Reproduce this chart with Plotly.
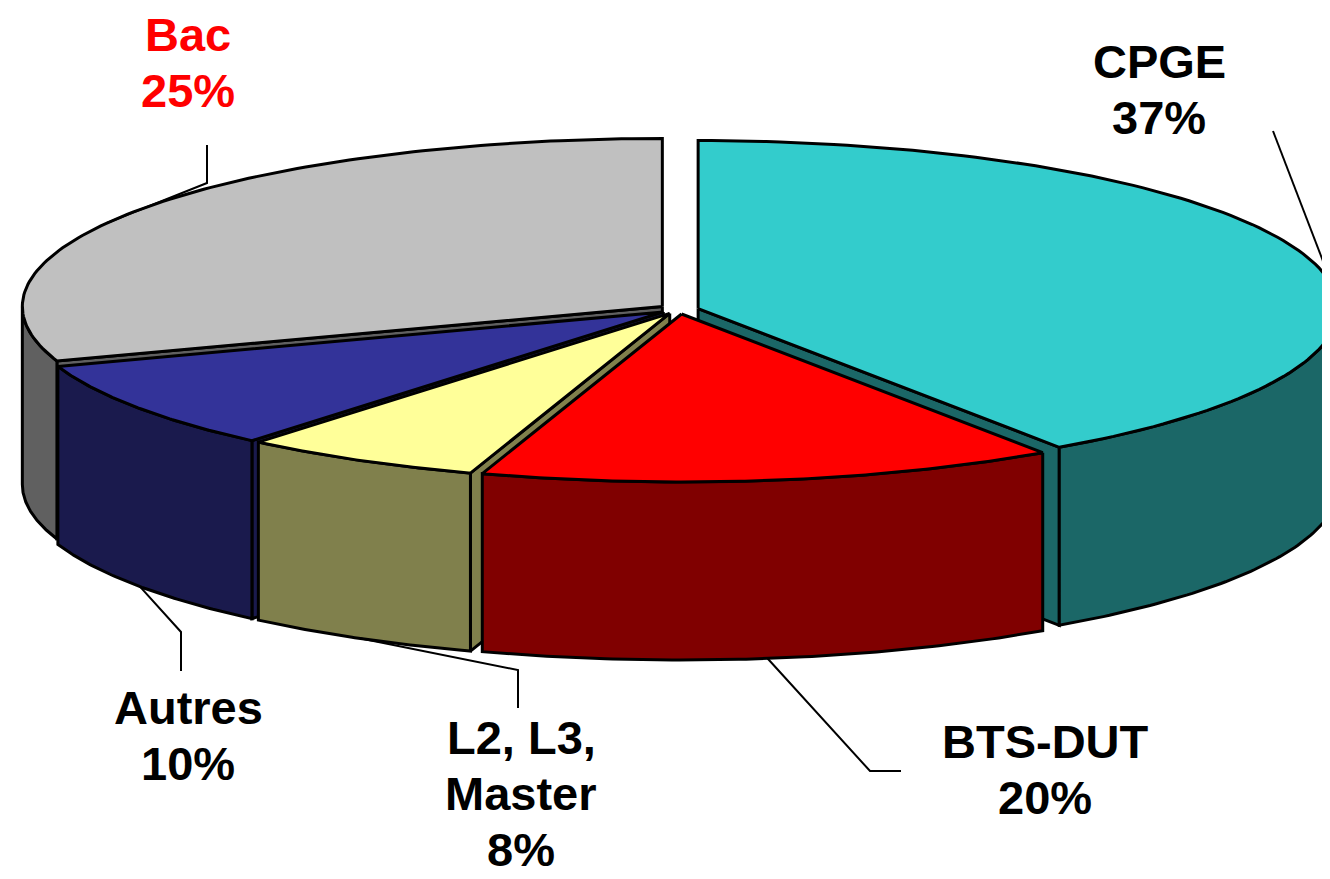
import numpy as np
import plotly.graph_objects as go

# ---------------- data ----------------
categories = ["CPGE", "BTS-DUT", "L2, L3, Master", "Autres", "Bac"]
label_lines = [["CPGE"], ["BTS-DUT"], ["L2, L3,", "Master"], ["Autres"], ["Bac"]]
values = [37, 20, 8, 10, 25]

# ---------------- style ----------------
top_colors = ["#33CCCC", "#FF0000", "#FFFF99", "#333399", "#C0C0C0"]
side_colors = ["#1B6767", "#800000", "#80804C", "#1A1A4D", "#606060"]
label_colors = ["black", "black", "black", "black", "#FF0000"]
# label x-centre and y of the first line's centre (layout, in pixels)
label_pos = [(1151, 61), (1037, 741), (513, 737), (180, 707), (180, 34)]
LINE_STEP = 56
TEXT_DY = -8               # anchor offset between box middle and cap middle
leader_elbows = [
    [(1265, 123)],
    [(862, 763), (893, 763)],
    [(510, 662), (510, 700)],
    [(173, 624), (173, 663)],
    [(199, 175), (199, 137)],
]

W, H = 1330, 879
CX, CY = 671, 301          # pie centre (px)
RX, RY = 640, 168          # ellipse radii of the tilted disc
DEPTH = 178                # thickness of the pie
PULL = 0.03                # explosion (fraction of radius)
PERSP = 1.4                # perspective warp of the angles
LINE_W = 3
FONT = "Liberation Sans, Arial, sans-serif"
FONT_SIZE = 47


def warp(theta_deg):
    t = np.radians(theta_deg) / 2.0
    return 2.0 * np.arctan2(PERSP * np.sin(t), np.cos(t))


total = float(sum(values))
cum = np.concatenate([[0.0], np.cumsum(values)]) / total * 360.0

slices = []
for i, v in enumerate(values):
    th0, th1 = cum[i], cum[i + 1]
    p0, p1 = warp(th0), warp(th1)
    pm = warp((th0 + th1) / 2.0)
    ox = PULL * RX * np.sin(pm)
    oy = -PULL * RY * np.cos(pm)
    slices.append(dict(i=i, p0=p0, p1=p1, pm=pm, vx=CX + ox, vy=CY + oy))


def rim(s, p):
    p = np.asarray(p)
    return s["vx"] + RX * np.sin(p), s["vy"] - RY * np.cos(p)


fig = go.Figure()


def add_poly(xs, ys, fill):
    fig.add_trace(go.Scatter(
        x=list(xs), y=list(ys), mode="lines", fill="toself",
        fillcolor=fill, line=dict(color="black", width=LINE_W),
        hoverinfo="skip", showlegend=False))


# painter's order: back slices first
order = sorted(slices, key=lambda s: -np.cos(s["pm"]))
for s in order:
    i = s["i"]
    side = side_colors[i]
    # radial walls
    for p, visible in ((s["p0"], np.sin(s["p0"]) < -1e-6),
                       (s["p1"], np.sin(s["p1"]) > 1e-6)):
        if visible:
            rx_, ry_ = rim(s, p)
            xs = [s["vx"], rx_, rx_, s["vx"], s["vx"]]
            ys = [s["vy"], ry_, ry_ + DEPTH, s["vy"] + DEPTH, s["vy"]]
            add_poly(xs, ys, side)
    # outer curved wall (front half only)
    a = max(s["p0"], np.pi / 2)
    b = min(s["p1"], 3 * np.pi / 2)
    if b > a:
        ps = np.linspace(a, b, 80)
        tx, ty = rim(s, ps)
        xs = np.concatenate([tx, tx[::-1], tx[:1]])
        ys = np.concatenate([ty, ty[::-1] + DEPTH, ty[:1]])
        add_poly(xs, ys, side)
    # top face
    ps = np.linspace(s["p0"], s["p1"], 120)
    tx, ty = rim(s, ps)
    xs = np.concatenate([[s["vx"]], tx, [s["vx"]]])
    ys = np.concatenate([[s["vy"]], ty, [s["vy"]]])
    add_poly(xs, ys, top_colors[i])

# leader lines and labels
for s in slices:
    i = s["i"]
    ax, ay = rim(s, s["pm"])
    if np.cos(s["pm"]) < 0:
        ay = ay + DEPTH
    pts = [(float(ax), float(ay))] + leader_elbows[i]
    fig.add_trace(go.Scatter(
        x=[p[0] for p in pts], y=[p[1] for p in pts], mode="lines",
        line=dict(color="black", width=2), hoverinfo="skip", showlegend=False))
    pct = round(values[i] / total * 100)
    lines = label_lines[i] + [f"{pct}%"]
    lx, ly = label_pos[i]
    for k, txt in enumerate(lines):
        fig.add_annotation(
            x=lx, y=ly + k * LINE_STEP + TEXT_DY, xref="x", yref="y",
            text=f"<b>{txt}</b>", showarrow=False,
            xanchor="center", yanchor="middle", align="center",
            font=dict(family=FONT, size=FONT_SIZE, color=label_colors[i]))

fig.update_layout(
    width=W, height=H, autosize=False,
    margin=dict(l=0, r=0, t=0, b=0),
    paper_bgcolor="white", plot_bgcolor="white",
    xaxis=dict(range=[0, W], visible=False, fixedrange=True),
    yaxis=dict(range=[H, 0], visible=False, fixedrange=True),
)

fig.write_html("out.html", config={"displayModeBar": False})
